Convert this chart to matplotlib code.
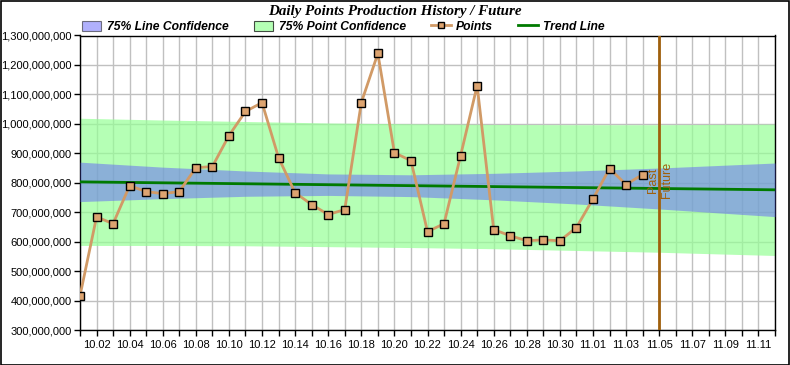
import matplotlib
matplotlib.use("Agg")
import matplotlib.pyplot as plt
from matplotlib.patches import Patch, Rectangle
from matplotlib.lines import Line2D
from matplotlib.ticker import FuncFormatter, MultipleLocator

plt.rcParams['font.family'] = ['Liberation Sans', 'DejaVu Sans']

# ---- data ----
axis_days = (["10.%02d" % d for d in range(1, 32)] +
             ["11.%02d" % d for d in range(1, 13)])
point_days = axis_days[:35]
point_values = [416, 684, 661, 790, 770, 763, 770, 851, 855, 960, 1042, 1072,
                885, 766, 726, 692, 709, 1072, 1239, 902, 875, 634, 661, 892,
                1130, 641, 620, 603, 606, 603, 648, 745, 848, 794, 828]
point_values = [v * 1e6 for v in point_values]

trend_days = ["10.01", "11.12"]
trend_values = [803e6, 776e6]

band_days = ["10.01", "10.06", "10.11", "10.16", "10.21", "10.26", "10.31", "11.05", "11.12"]
line_conf_upper = [870, 853, 840, 830, 827, 832, 840, 850, 867]
line_conf_lower = [736, 746, 754, 757, 753, 742, 728, 711, 685]
point_conf_upper = [1019, 1013, 1008, 1003, 1000, 998, 997, 997, 999]
point_conf_lower = [587, 587, 586, 583, 580, 576, 570, 564, 553]

divider_day = "11.05"
tick_label_days = axis_days[1::2]

# ---- figure ----
W, H = 790, 365
fig = plt.figure(figsize=(W / 100, H / 100), dpi=100)
ax = fig.add_axes([80 / W, 1 - 330 / H, (775 - 80) / W, (330 - 35.5) / H])

pos = {d: i for i, d in enumerate(axis_days)}
bx = [pos[d] for d in band_days]

ax.fill_between(bx, [v * 1e6 for v in point_conf_lower], [v * 1e6 for v in point_conf_upper],
                color=(0.59, 1.0, 0.59), alpha=0.7, linewidth=0, zorder=2)
ax.fill_between(bx, [v * 1e6 for v in line_conf_lower], [v * 1e6 for v in line_conf_upper],
                color=(0.39, 0.39, 0.98), alpha=0.5, linewidth=0, zorder=3)

ax.plot([pos[d] for d in trend_days], trend_values, color='#007A00', lw=2, zorder=4)

ax.plot([pos[d] for d in point_days], point_values, color='#D19A66', lw=2,
        marker='s', markersize=5.2, markerfacecolor='#DDA470', markeredgecolor='black',
        markeredgewidth=1, zorder=5)

xd = pos[divider_day]
ax.axvline(xd, color='#A0600C', lw=2, zorder=6)
ax.text(xd - 0.38, 765e6, "Past", rotation=90, ha='center', va='bottom',
        color='#A0600C', fontsize=9, zorder=6)
ax.text(xd + 0.45, 748e6, "Future", rotation=90, ha='center', va='bottom',
        color='#A0600C', fontsize=9, zorder=6)

ax.set_xlim(0, 42)
ax.set_ylim(300e6, 1300e6)
ax.yaxis.set_major_locator(MultipleLocator(100e6))
ax.yaxis.set_major_formatter(FuncFormatter(lambda v, p: f"{int(round(v)):,}"))
ax.set_xticks(range(len(axis_days)))
ax.set_xticklabels([d if d in tick_label_days else "" for d in axis_days])
ax.grid(True, color='#C0C0C0', lw=1, zorder=1)
ax.set_axisbelow(True)
ax.tick_params(axis='both', direction='out', length=4, width=1, labelsize=8,
               colors='black', pad=2)
ax.tick_params(axis='x', pad=3)
for s in ax.spines.values():
    s.set_color('black')
    s.set_linewidth(1)

fig.text(0.5, 1 - 11 / H, "Daily Points Production History / Future",
         ha='center', va='center', fontsize=10.8, fontweight='bold', fontstyle='italic',
         family=['Liberation Serif', 'DejaVu Serif'])

handles = [
    Patch(facecolor=(0.39, 0.39, 0.98), alpha=0.5, edgecolor='black', linewidth=0.8),
    Patch(facecolor=(0.59, 1.0, 0.59), alpha=0.7, edgecolor='black', linewidth=0.8),
    Line2D([], [], color='#D19A66', lw=2, marker='s', markersize=5,
           markerfacecolor='#DDA470', markeredgecolor='black'),
    Line2D([], [], color='#007A00', lw=2),
]
labels = ["75% Line Confidence", "75% Point Confidence", "Points", "Trend Line"]
leg = fig.legend(handles, labels, loc='center left', bbox_to_anchor=(82 / W, 1 - 27 / H),
                 ncol=4, frameon=False, handlelength=1.6, handleheight=0.9,
                 handletextpad=0.45, columnspacing=2.1, borderaxespad=0, borderpad=0,
                 prop={'size': 8.7, 'weight': 'bold', 'style': 'italic'})
for h in leg.legend_handles[:2]:
    h.set_edgecolor('black')

fig.patches.append(Rectangle((0.5 / W, 0.5 / H), 1 - 1.5 / W, 1 - 1.5 / H,
                             transform=fig.transFigure, fill=False,
                             edgecolor='black', linewidth=1.2))

fig.savefig("out.png", dpi=100)
